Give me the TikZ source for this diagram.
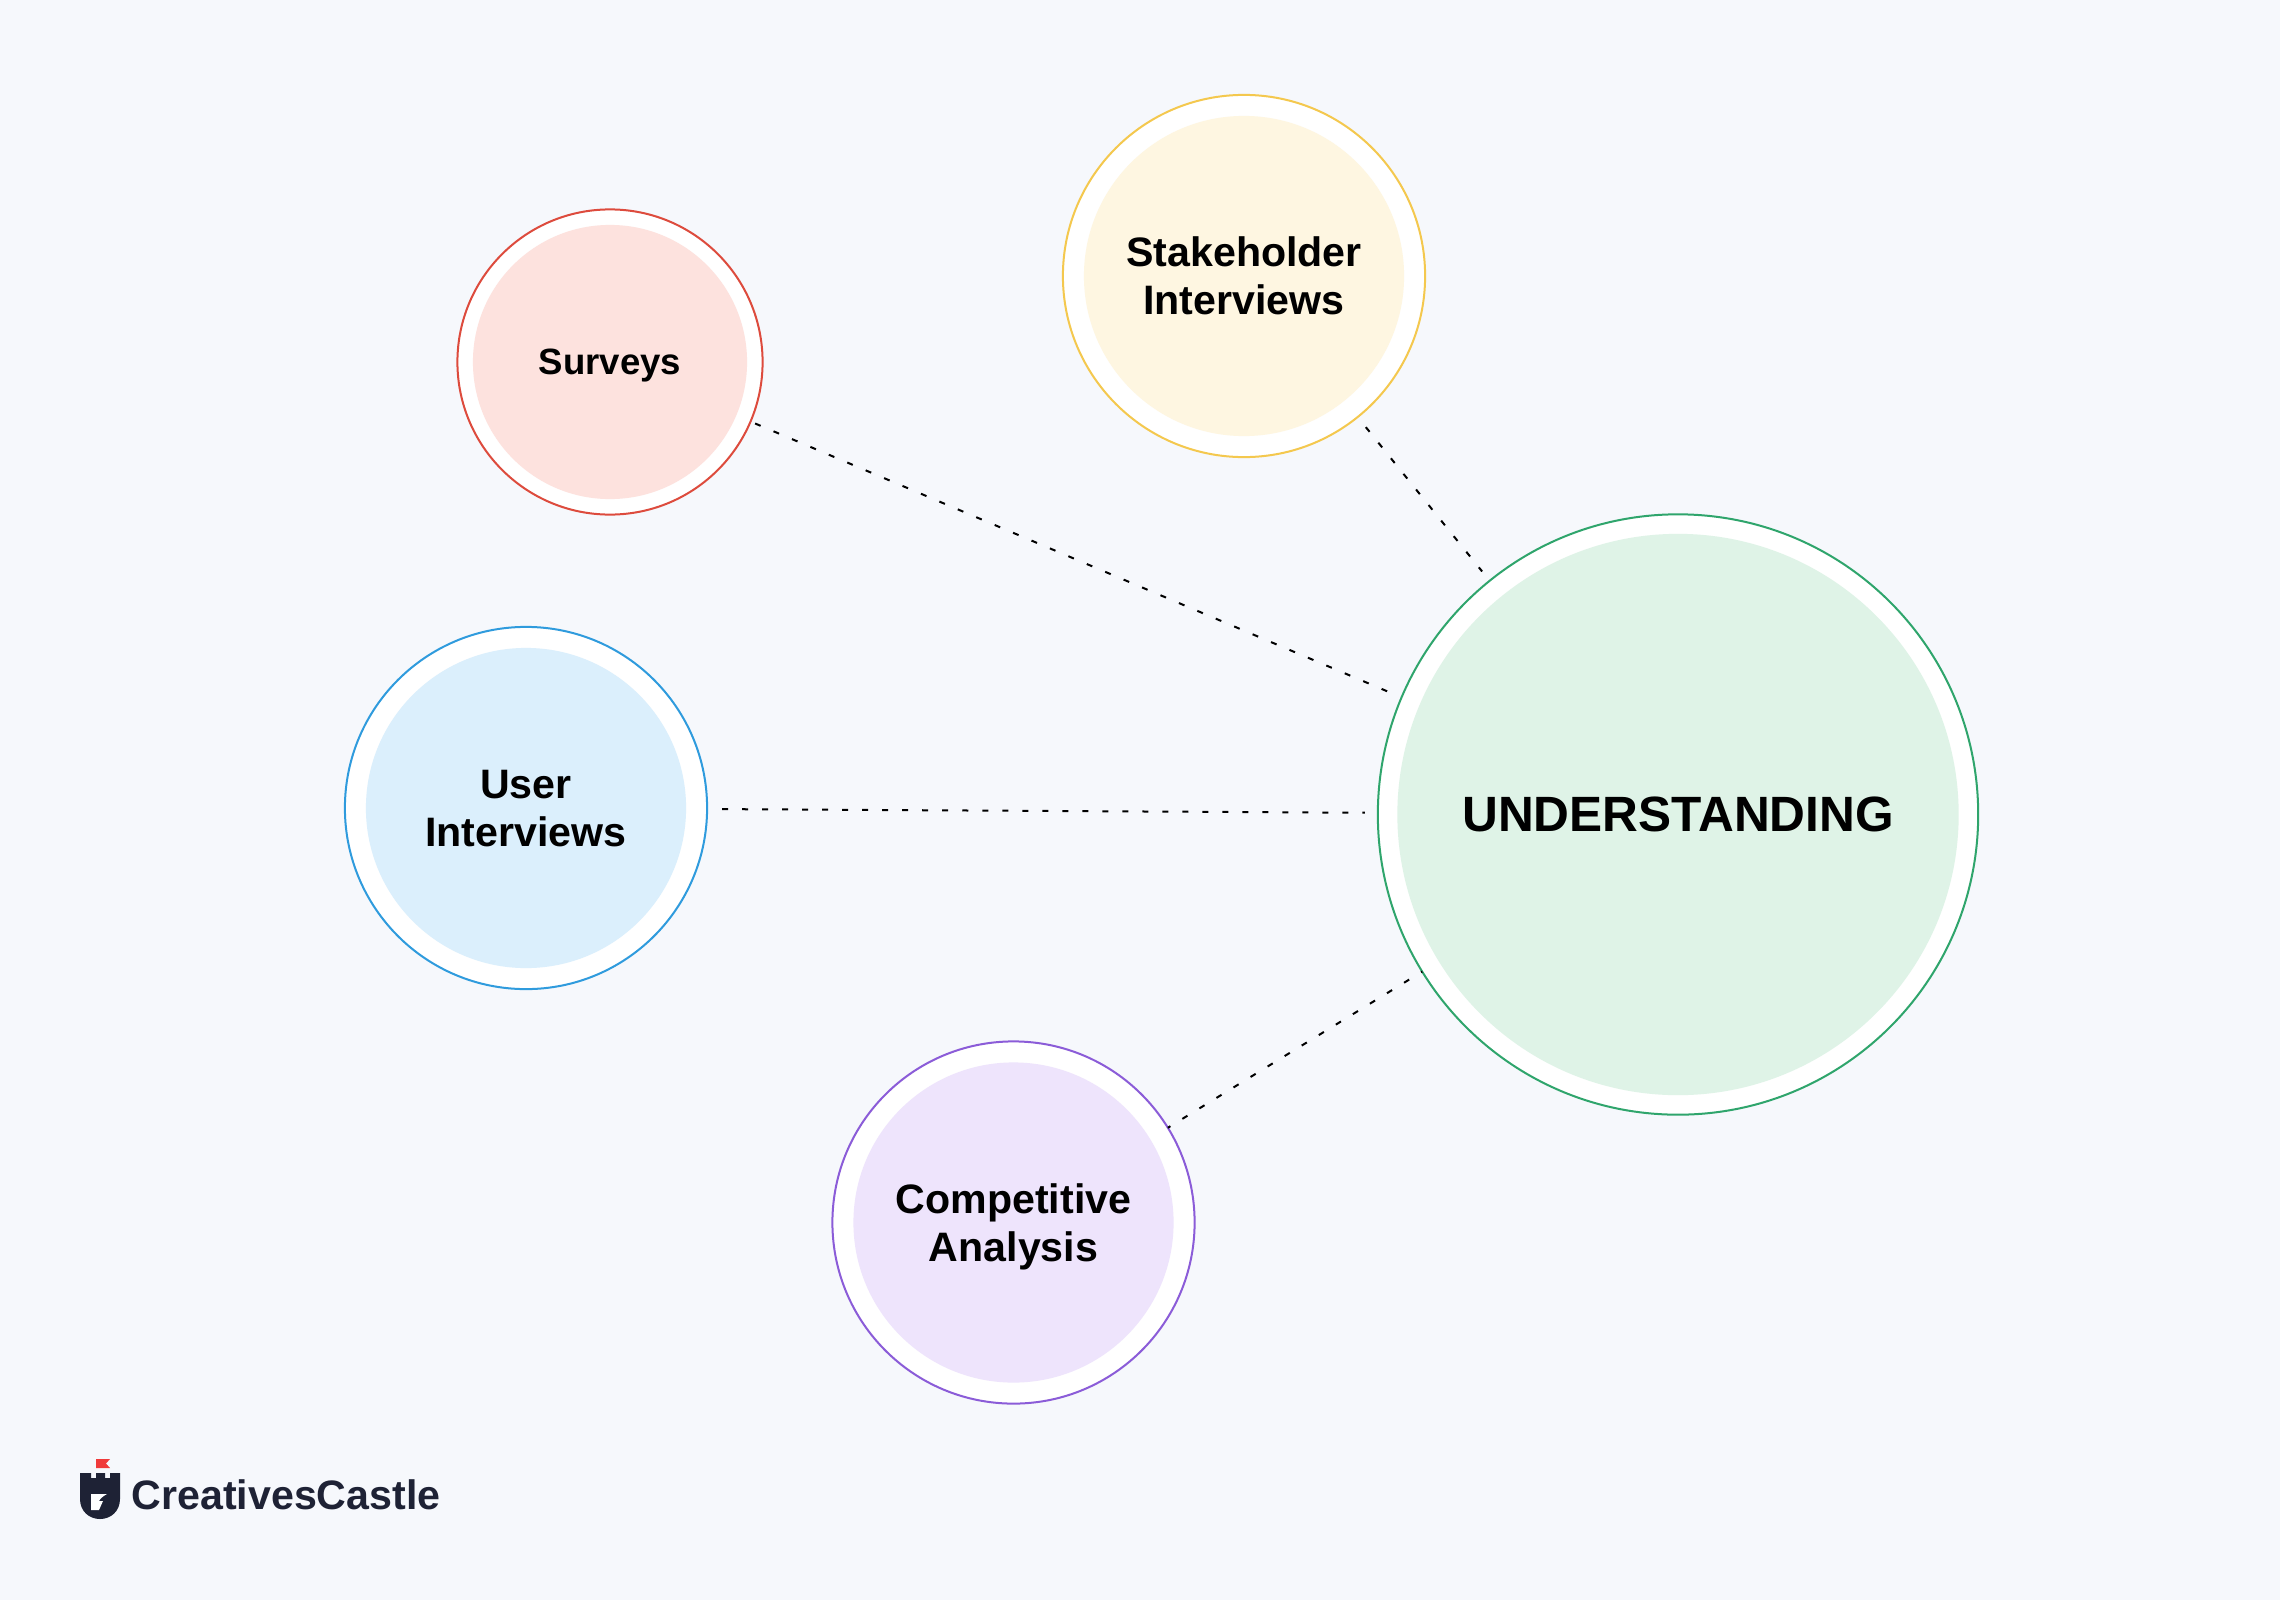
\documentclass[tikz,border=0pt]{standalone}
\usepackage{fontspec}
\setmainfont{Liberation Sans}

\definecolor{pagebg}{HTML}{F6F8FC}
\definecolor{greenline}{HTML}{2FA56C}
\definecolor{greenfill}{HTML}{DFF3E7}
\definecolor{yellowline}{HTML}{F4C84E}
\definecolor{yellowfill}{HTML}{FEF6E1}
\definecolor{redline}{HTML}{DD4B3D}
\definecolor{redfill}{HTML}{FDE2DE}
\definecolor{blueline}{HTML}{2F9BDD}
\definecolor{bluefill}{HTML}{DBEFFC}
\definecolor{purpleline}{HTML}{8B5CD8}
\definecolor{purplefill}{HTML}{EEE4FC}
\definecolor{logodark}{HTML}{1E2235}
\definecolor{logored}{HTML}{F03A3A}

\tikzset{
  ring/.style={circle, fill=white, line width=0.02cm, inner sep=0pt, outer sep=0pt},
  disc/.style={circle, align=center, inner sep=0pt, outer sep=0pt, text=black, text depth=0pt},
  linkline/.style={black, line width=0.02cm, dash pattern=on 0.06cm off 0.14cm}
}

\begin{document}
\begin{tikzpicture}[x=0.01cm, y=-0.01cm]

%background
\fill[pagebg] (0,0) rectangle (2280,1600);

%rings
\node[ring, draw=greenline, minimum size=6cm] (understanding) at (1678,814.5) {};
\node[ring, draw=yellowline, minimum size=3.62cm] (stakeholder) at (1244,276) {};
\node[ring, draw=redline, minimum size=3.05cm] (surveys) at (610,362) {};
\node[ring, draw=blueline, minimum size=3.62cm] (user) at (526,808) {};
\node[ring, draw=purpleline, minimum size=3.62cm] (competitive) at (1013.5,1222.5) {};

%discs
\node[disc, fill=greenfill, minimum size=5.61cm, font=\bfseries\fontsize{14.1}{17}\selectfont] (understandingdisc) at (understanding) {UNDERSTANDING};
\node[disc, fill=yellowfill, minimum size=3.2cm, font=\bfseries\fontsize{11.7}{13.6}\selectfont] (stakeholderdisc) at (stakeholder) {Stakeholder\\Interviews};
\node[disc, fill=redfill, minimum size=2.74cm, font=\bfseries\fontsize{10.4}{13}\selectfont] (surveysdisc) at (surveys) {Surveys};
\node[disc, fill=bluefill, minimum size=3.2cm, font=\bfseries\fontsize{11.7}{13.6}\selectfont] (userdisc) at (user) {User\\Interviews};
\node[disc, fill=purplefill, minimum size=3.2cm, font=\bfseries\fontsize{11.7}{13.6}\selectfont] (competitivedisc) at (competitive) {Competitive\\Analysis};

%lines
\draw[linkline, shorten <=0.13cm, shorten >=0.12cm] (stakeholder) -- (understanding);
\draw[linkline, shorten <=0.05cm, shorten >=0.02cm] (surveys) -- (understanding);
\draw[linkline, shorten <=0.15cm, shorten >=0.13cm] (user) -- (understanding);
\draw[linkline, dash phase=0.03cm] (competitive) -- (understanding);

%logo
\fill[logodark] (80,1473) -- (91,1473) -- (91,1478) -- (96,1478) -- (96,1473) -- (105,1473) -- (105,1478) -- (110,1478) -- (110,1473) -- (120,1473)
  -- (120,1499) .. controls (120,1511) and (111,1519) .. (100,1519) .. controls (89,1519) and (80,1511) .. (80,1499) -- cycle;
\fill[white] (91,1494) -- (107,1494) .. controls (103,1496) and (100,1499) .. (99,1501) -- (103,1501) -- (99,1510) -- (91,1510) -- cycle;
\fill[logored] (96,1459) -- (110,1459) -- (106,1463.5) -- (110,1468) -- (96,1468) -- cycle;
\node[font=\bfseries\fontsize{11.7}{13}\selectfont, text=logodark, anchor=west, inner sep=0pt] (brand) at (131,1495) {CreativesCastle};

\end{tikzpicture}
\end{document}
